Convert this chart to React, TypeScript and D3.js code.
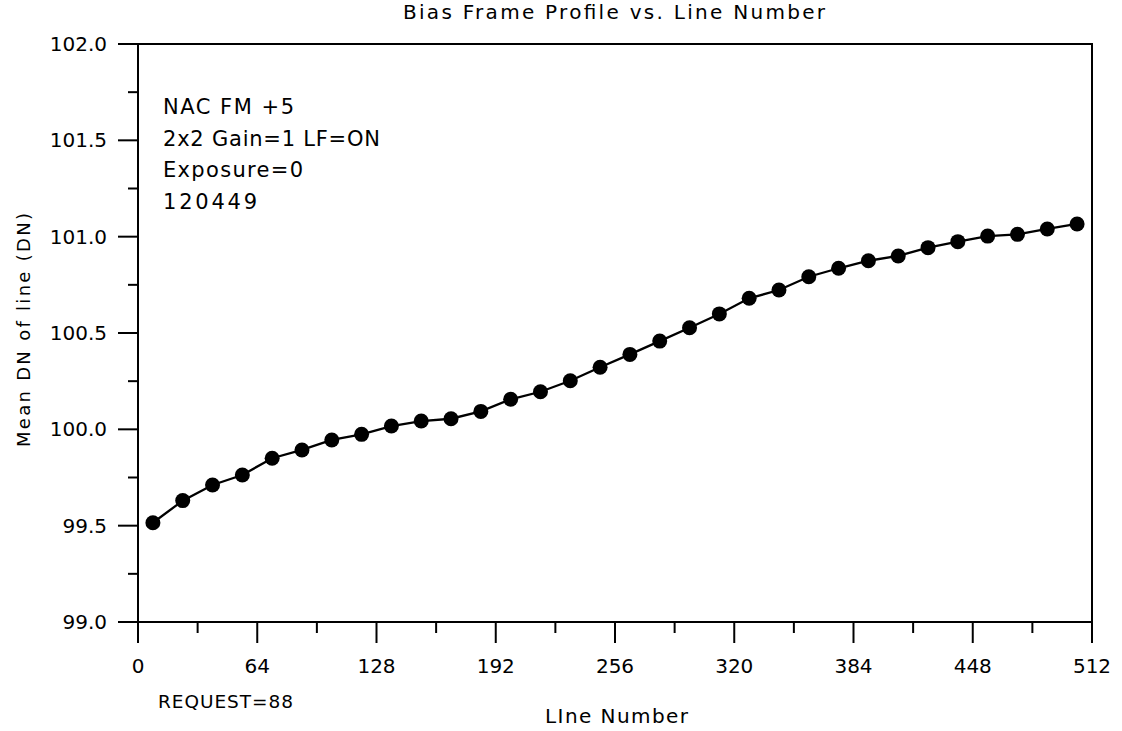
import React from 'react';
import * as d3 from 'd3';

// line numbers sampled (centre of each 16-line block)
const lineNumbers = [8, 24, 40, 56, 72, 88, 104, 120, 136, 152, 168, 184, 200, 216, 232, 248,
  264, 280, 296, 312, 328, 344, 360, 376, 392, 408, 424, 440, 456, 472, 488, 504];
// mean DN of each line
const meanDN = [99.515, 99.63, 99.711, 99.763, 99.85, 99.893, 99.945, 99.974, 100.017, 100.043, 100.055, 100.093,
  100.156, 100.195, 100.252, 100.322, 100.389, 100.458, 100.527, 100.599, 100.68, 100.723, 100.792, 100.836,
  100.875, 100.9, 100.943, 100.974, 101.003, 101.012, 101.04, 101.066];

const xTicks = [0, 64, 128, 192, 256, 320, 384, 448, 512];
const xMinorTicks = [32, 96, 160, 224, 288, 352, 416, 480];
const yTicks = [99.0, 99.5, 100.0, 100.5, 101.0, 101.5, 102.0];
const yMinorTicks = [99.25, 99.75, 100.25, 100.75, 101.25, 101.75];

const notes = ['NAC FM +5', '2x2 Gain=1 LF=ON', 'Exposure=0', '120449'];
const noteWidths = [131, 217, 140, 94];

const W = 1122;
const H = 731;
const font = '"DejaVu Sans", Verdana, sans-serif';

export default function App() {
  const margin = { left: 138, right: 1092, top: 44, bottom: 622 };

  const x = d3.scaleLinear().domain([0, 512]).range([margin.left, margin.right]);
  const y = d3.scaleLinear().domain([99, 102]).range([margin.bottom, margin.top]);

  const pts = lineNumbers.map((ln, i) => [ln, meanDN[i]] as [number, number]);
  const path = d3.line<[number, number]>()
    .x(d => x(d[0]))
    .y(d => y(d[1]))(pts);

  return (
    <svg width={W} height={H} style={{ position: 'absolute', left: 0, top: 0, background: '#fff' }}>
      <rect x={0} y={0} width={W} height={H} fill="#fff" />

      <text x={403} y={19} fontFamily={font} fontSize={20} fill="#000" textLength={422} lengthAdjust="spacing">
        Bias Frame Profile vs. Line Number
      </text>

      {/* frame */}
      <rect x={margin.left} y={margin.top} width={margin.right - margin.left} height={margin.bottom - margin.top}
        fill="none" stroke="#000" strokeWidth={2} />

      {/* y ticks */}
      {yTicks.map(t => (
        <g key={'y' + t}>
          <line x1={margin.left - 20} x2={margin.left} y1={y(t)} y2={y(t)} stroke="#000" strokeWidth={2} />
          <text x={107} y={y(t) + 7} textAnchor="end" fontFamily={font} fontSize={20} fill="#000">
            {t.toFixed(1)}
          </text>
        </g>
      ))}
      {yMinorTicks.map(t => (
        <line key={'ym' + t} x1={margin.left - 10} x2={margin.left} y1={y(t)} y2={y(t)} stroke="#000" strokeWidth={2} />
      ))}

      {/* x ticks */}
      {xTicks.map(t => (
        <g key={'x' + t}>
          <line x1={x(t)} x2={x(t)} y1={margin.bottom} y2={margin.bottom + 21} stroke="#000" strokeWidth={2} />
          <text x={x(t)} y={673} textAnchor="middle" fontFamily={font} fontSize={20} fill="#000">
            {t}
          </text>
        </g>
      ))}
      {xMinorTicks.map(t => (
        <line key={'xm' + t} x1={x(t)} x2={x(t)} y1={margin.bottom} y2={margin.bottom + 11} stroke="#000" strokeWidth={2} />
      ))}

      <text x={545} y={723} fontFamily={font} fontSize={20} fill="#000" textLength={143} lengthAdjust="spacing">
        LIne Number
      </text>
      <text x={158} y={708} fontFamily={font} fontSize={18.5} fill="#000" textLength={135} lengthAdjust="spacing">
        REQUEST=88
      </text>

      <text transform="translate(30,330) rotate(-90)" textAnchor="middle" fontFamily={font} fontSize={18}
        fill="#000" textLength={234} lengthAdjust="spacing">
        Mean DN of line (DN)
      </text>

      {notes.map((n, i) => (
        <text key={n} x={163} y={114 + i * 31.5} fontFamily={font} fontSize={21} fill="#000"
          textLength={noteWidths[i]} lengthAdjust="spacing">{n}</text>
      ))}

      <path d={path ?? ''} fill="none" stroke="#000" strokeWidth={2.3} />
      {pts.map((d, i) => (
        <circle key={i} cx={x(d[0])} cy={y(d[1])} r={7.5} fill="#000" />
      ))}
    </svg>
  );
}
